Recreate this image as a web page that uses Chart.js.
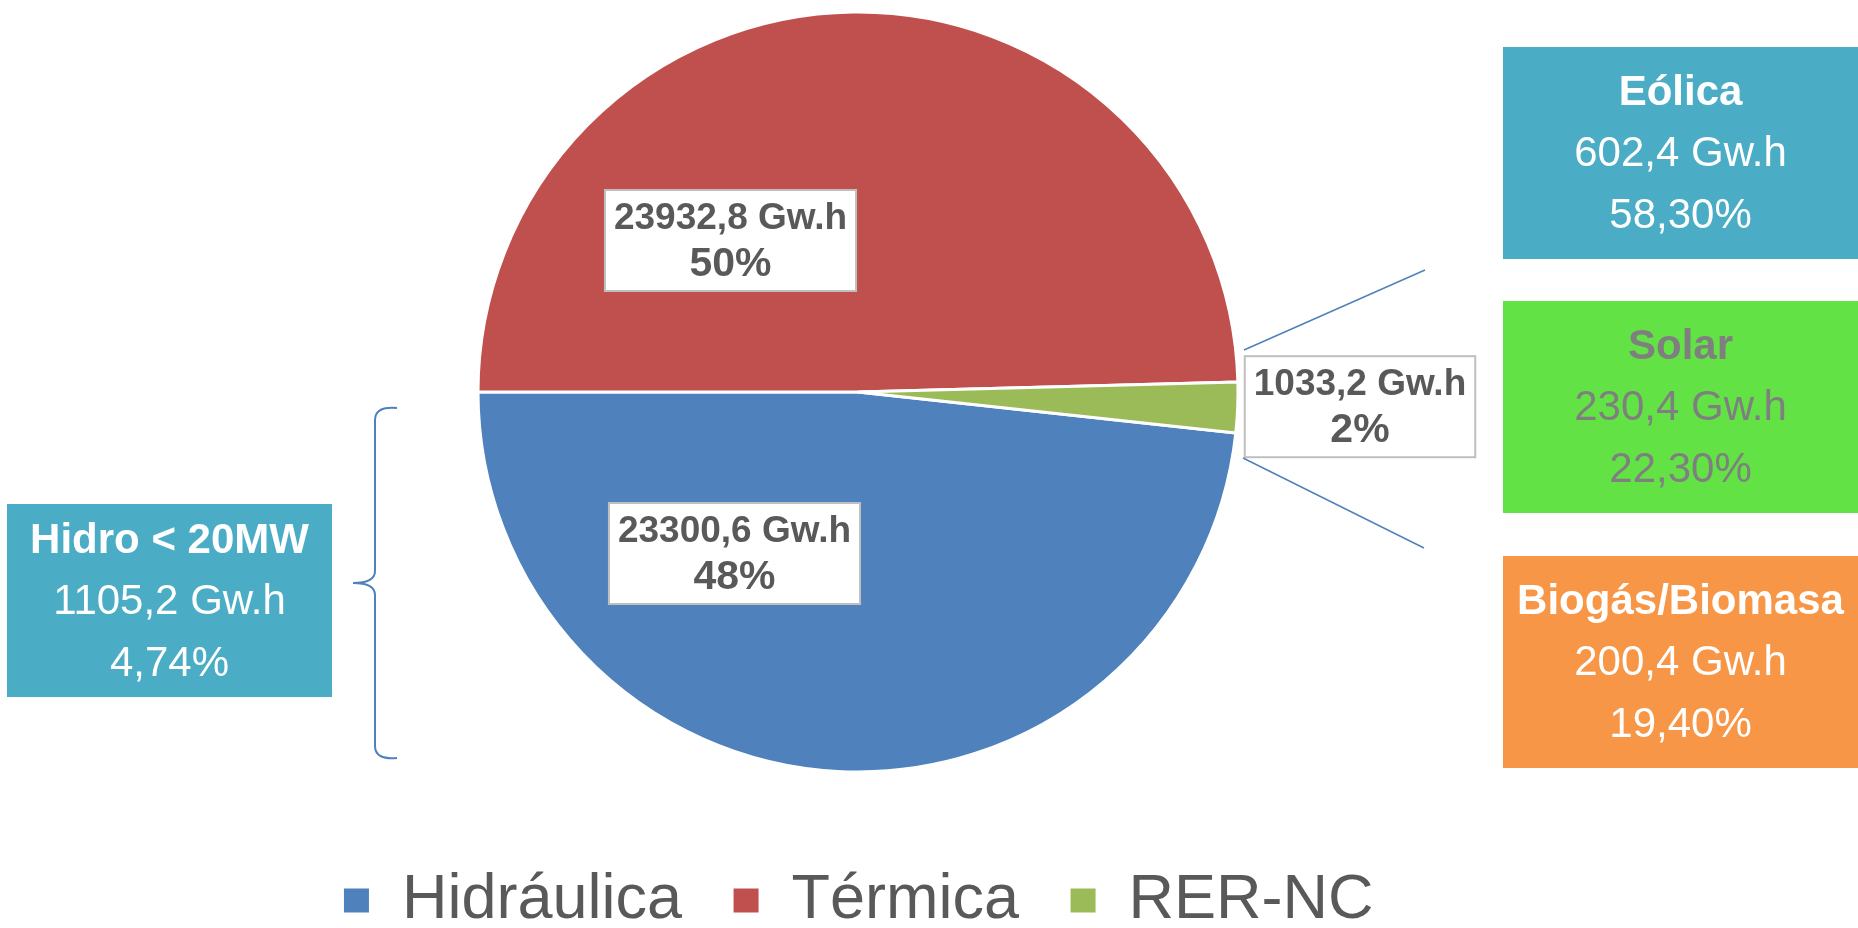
<!DOCTYPE html>
<html>
<head>
<meta charset="utf-8">
<script src="https://cdn.jsdelivr.net/npm/chart.js@4.4.1/dist/chart.umd.min.js"></script>
<style>
  html, body { margin: 0; padding: 0; background: #fff; overflow: hidden; }
  #wrap { position: relative; width: 1858px; height: 928px; overflow: hidden; }
  /* canvas is taller than the page and pulled up so the pie and legend sit right */
  #chart { position: absolute; left: 0; top: -48px; }
</style>
</head>
<body>
<div id="wrap">
  <canvas id="chart" width="1858" height="990"></canvas>
</div>
<script>
// main pie
const categories = ["Hidráulica", "Térmica", "RER-NC"];
const energyGWh = [23300.6, 23932.8, 1033.2];
const sliceColors = ["#4F81BD", "#C0504D", "#9BBB59"];

// RER-NC breakdown (right side)
const rerNames = ["Eólica", "Solar", "Biogás/Biomasa"];
const rerGWh = [602.4, 230.4, 200.4];
const rerPct = [58.30, 22.30, 19.40];

// small hydro, part of Hidráulica (left side)
const hydroName = "Hidro < 20MW";
const hydroGWh = 1105.2;
const hydroPct = 4.74;

const OFF = 48; // canvas top is 48px above the page top
const FONT = '"Liberation Sans", Arial, sans-serif';

const fmt = (v, d) => v.toFixed(d).replace(".", ",");

// Blue slice must end at 9 o'clock
const total = energyGWh.reduce((a, b) => a + b, 0);
const rotation = 270 - 360 * energyGWh[0] / total;

const sliceLabels = {
  id: "sliceLabels",
  afterDatasetsDraw(chart, args, opts) {
    const ctx = chart.ctx;
    const data = chart.data.datasets[0].data;
    const sum = data.reduce((a, b) => a + b, 0);
    chart.getDatasetMeta(0).data.forEach((arc, i) => {
      const r = arc.outerRadius;
      const cx = arc.x + opts.anchors[i][0] * r;
      const cy = arc.y + opts.anchors[i][1] * r;
      const line1 = fmt(data[i], 1) + " Gw.h";
      const line2 = Math.round(data[i] / sum * 100) + "%";
      ctx.save();
      ctx.font = "bold 37px " + FONT;
      const w = ctx.measureText(line1).width + 18;
      const h = 101;
      const x0 = cx - w / 2, y0 = cy - h / 2;
      ctx.fillStyle = "#fff";
      ctx.fillRect(x0, y0, w, h);
      ctx.strokeStyle = "#BFBFBF";
      ctx.lineWidth = 2;
      ctx.strokeRect(x0, y0, w, h);
      ctx.fillStyle = "#595959";
      ctx.textAlign = "center";
      ctx.textBaseline = "alphabetic";
      ctx.fillText(line1, cx, y0 + 39);
      ctx.font = "bold 41px " + FONT;
      ctx.fillText(line2, cx, y0 + 86);
      ctx.restore();
    });
  }
};

function infoBox(ctx, x, y, w, h, bg, fg, lines) {
  ctx.fillStyle = bg;
  ctx.fillRect(x, y + OFF, w, h);
  ctx.fillStyle = fg;
  ctx.textAlign = "center";
  ctx.textBaseline = "alphabetic";
  const mid = y + OFF + h / 2;
  const offs = [-48, 13, 75];
  lines.forEach((t, i) => {
    ctx.font = (i === 0 ? "bold " : "") + "42px " + FONT;
    ctx.fillText(t, x + w / 2, mid + offs[i]);
  });
}

const sidePanels = {
  id: "sidePanels",
  afterDraw(chart) {
    const ctx = chart.ctx;
    ctx.save();

    // connectors from the RER-NC label to the breakdown boxes
    ctx.strokeStyle = "#4F81BD";
    ctx.lineWidth = 1.5;
    ctx.beginPath();
    ctx.moveTo(1244, 350 + OFF); ctx.lineTo(1425, 270 + OFF);
    ctx.moveTo(1243, 458 + OFF); ctx.lineTo(1424, 548 + OFF);
    ctx.stroke();

    // brace on the left
    ctx.lineWidth = 2;
    ctx.beginPath();
    ctx.moveTo(397, 408 + OFF);
    ctx.quadraticCurveTo(375, 406 + OFF, 375, 420 + OFF);
    ctx.lineTo(375, 571 + OFF);
    ctx.quadraticCurveTo(375, 583 + OFF, 353, 583 + OFF);
    ctx.quadraticCurveTo(375, 583 + OFF, 375, 595 + OFF);
    ctx.lineTo(375, 746 + OFF);
    ctx.quadraticCurveTo(375, 760 + OFF, 397, 758 + OFF);
    ctx.stroke();

    infoBox(ctx, 7, 504, 325, 193, "#4BACC6", "#fff",
      [hydroName, fmt(hydroGWh, 1) + " Gw.h", fmt(hydroPct, 2) + "%"]);

    const boxTops = [47, 301, 556];
    const boxBgs = ["#4BACC6", "#63E246", "#F79646"];
    const boxFgs = ["#fff", "#7F7F7F", "#fff"];
    rerNames.forEach((n, i) => {
      infoBox(ctx, 1503, boxTops[i], 355, 212, boxBgs[i], boxFgs[i],
        [n, fmt(rerGWh[i], 1) + " Gw.h", fmt(rerPct[i], 2) + "%"]);
    });
    ctx.restore();
  }
};

Chart.defaults.font.family = FONT;

new Chart(document.getElementById("chart"), {
  type: "pie",
  data: {
    labels: categories,
    datasets: [{
      data: energyGWh,
      backgroundColor: sliceColors,
      borderColor: "#fff",
      borderWidth: 3
    }]
  },
  options: {
    responsive: false,
    animation: false,
    rotation: rotation,
    radius: 380,
    layout: { padding: { top: 13, left: 0, right: 142, bottom: 0 } },
    plugins: {
      tooltip: { enabled: false },
      legend: {
        position: "bottom",
        labels: {
          color: "#595959",
          font: { family: FONT, size: 63 },
          boxWidth: 28,
          boxHeight: 27,
          padding: 50
        }
      },
      sliceLabels: {
        // box centres, in units of the pie radius from its centre
        anchors: [[-0.325, 0.425], [-0.3355, -0.3987], [1.321, 0.0387]]
      }
    }
  },
  plugins: [sliceLabels, sidePanels]
});
</script>
</body>
</html>
